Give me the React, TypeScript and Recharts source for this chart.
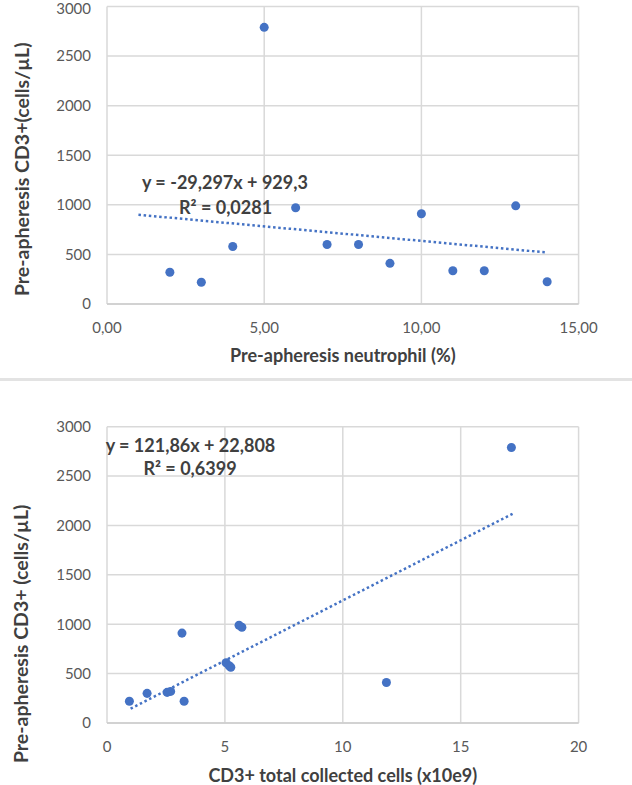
import {
  ScatterChart,
  Scatter,
  XAxis,
  YAxis,
  CartesianGrid,
  ReferenceDot,
} from "recharts";

// top panel: neutrophil % vs CD3+
const neutrophilPct = [2, 3, 4, 5, 6, 7, 8, 9, 10, 11, 12, 13, 14];
const neutrophilCD3 = [320, 220, 580, 2790, 970, 600, 600, 410, 910, 335, 335, 990, 225];
const neutrophilTrendX = [1, 14];
const neutrophilTrendY = [900, 519];

// bottom panel: collected cells vs CD3+
const collectedCells = [0.95, 1.7, 2.55, 2.7, 3.18, 3.27, 5.05, 5.18, 5.25, 5.6, 5.72, 11.85, 17.15];
const collectedCD3 = [220, 300, 310, 320, 910, 220, 610, 580, 565, 990, 970, 410, 2790];
const collectedTrendX = [1, 17.2];
const collectedTrendY = [145, 2118];

const yTicks = [0, 500, 1000, 1500, 2000, 2500, 3000];
const neutrophilTicks = [0, 5, 10, 15];
const collectedTicks = [0, 5, 10, 15, 20];

const zip = (xs: number[], ys: number[]) => xs.map((x, i) => ({ x, y: ys[i] }));

const BLUE = "#4472C4";
const FONT = "Lato, sans-serif";
const tickStyle = { fill: "#595959", fontSize: 15, fontFamily: FONT };

const yTitle = (text: string, dy: number) => (props: any) => {
  const vb = props.viewBox;
  const cx = vb.x + 21;
  const cy = vb.y + vb.height / 2 + dy;
  return (
    <text
      x={cx}
      y={cy}
      transform={`rotate(-90, ${cx}, ${cy})`}
      textAnchor="middle"
      dominantBaseline="central"
      fill="#404040"
      fontSize={19.5}
      fontWeight="bold"
      fontFamily={FONT}
    >
      {text}
    </text>
  );
};

const xTitle = (text: string, dy: number) => (props: any) => {
  const vb = props.viewBox;
  return (
    <text
      x={vb.x + vb.width / 2}
      y={vb.y + dy}
      textAnchor="middle"
      dominantBaseline="central"
      fill="#404040"
      fontSize={18}
      fontWeight="bold"
      fontFamily={FONT}
    >
      {text}
    </text>
  );
};

const eqLabel = (value: string) => ({
  value,
  position: "center" as const,
  fill: "#404040",
  fontSize: 18,
  fontWeight: "bold",
  fontFamily: FONT,
});

const trendLine = { stroke: BLUE, strokeWidth: 2.5, strokeDasharray: "2.5 2.7" };
const noShape = () => <g />;

const TopChart = () => (
  <ScatterChart width={632} height={379} margin={{ top: 6.5, right: 53.4, bottom: 10, left: 0 }}>
    <CartesianGrid stroke="#d9d9d9" strokeWidth={1.5} />
    <XAxis
      type="number"
      dataKey="x"
      domain={[0, 15]}
      ticks={neutrophilTicks}
      tickFormatter={(v: number) => v.toFixed(2).replace(".", ",")}
      tick={tickStyle}
      tickLine={false}
      tickMargin={12}
      axisLine={{ stroke: "#cccccc", strokeWidth: 1.5 }}
      height={65}
      label={{ content: xTitle("Pre-apheresis neutrophil (%)", 51) }}
    />
    <YAxis
      type="number"
      dataKey="y"
      domain={[0, 3000]}
      ticks={yTicks}
      tick={tickStyle}
      tickLine={false}
      tickMargin={10}
      axisLine={false}
      width={107}
      label={{ content: yTitle("Pre-apheresis CD3+(cells/µL)", 14) }}
    />
    <Scatter
      data={zip(neutrophilTrendX, neutrophilTrendY)}
      line={trendLine}
      shape={noShape}
      isAnimationActive={false}
    />
    <Scatter data={zip(neutrophilPct, neutrophilCD3)} fill={BLUE} shape="circle" isAnimationActive={false} />
    <ReferenceDot x={3.75} y={1222} r={0} fill="none" stroke="none" label={eqLabel("y = -29,297x + 929,3")} />
    <ReferenceDot x={3.77} y={970} r={0} fill="none" stroke="none" label={eqLabel("R² = 0,0281")} />
  </ScatterChart>
);

const BottomChart = () => (
  <ScatterChart width={632} height={405} margin={{ top: 46.7, right: 53.4, bottom: 10, left: 0 }}>
    <CartesianGrid stroke="#d9d9d9" strokeWidth={1.5} />
    <XAxis
      type="number"
      dataKey="x"
      domain={[0, 20]}
      ticks={collectedTicks}
      tick={tickStyle}
      tickLine={false}
      tickMargin={12}
      axisLine={{ stroke: "#cccccc", strokeWidth: 1.5 }}
      height={52}
      label={{ content: xTitle("CD3+ total collected cells (x10e9)", 52) }}
    />
    <YAxis
      type="number"
      dataKey="y"
      domain={[0, 3000]}
      ticks={yTicks}
      tick={tickStyle}
      tickLine={false}
      tickMargin={10}
      axisLine={false}
      width={107}
      label={{ content: yTitle("Pre-apheresis CD3+ (cells/µL)", 59) }}
    />
    <Scatter
      data={zip(collectedTrendX, collectedTrendY)}
      line={trendLine}
      shape={noShape}
      isAnimationActive={false}
    />
    <Scatter data={zip(collectedCells, collectedCD3)} fill={BLUE} shape="circle" isAnimationActive={false} />
    <ReferenceDot x={3.54} y={2810} r={0} fill="none" stroke="none" label={eqLabel("y = 121,86x + 22,808")} />
    <ReferenceDot x={3.52} y={2574} r={0} fill="none" stroke="none" label={eqLabel("R² = 0,6399")} />
  </ScatterChart>
);

export default function App() {
  return (
    <div style={{ position: "absolute", left: 0, top: 0, width: 632, height: 785, background: "#fff" }}>
      <TopChart />
      <div style={{ position: "absolute", left: 0, top: 378, width: 632, height: 2.5, background: "#e3e3e3" }} />
      <div style={{ position: "absolute", left: 0, top: 380 }}>
        <BottomChart />
      </div>
    </div>
  );
}
